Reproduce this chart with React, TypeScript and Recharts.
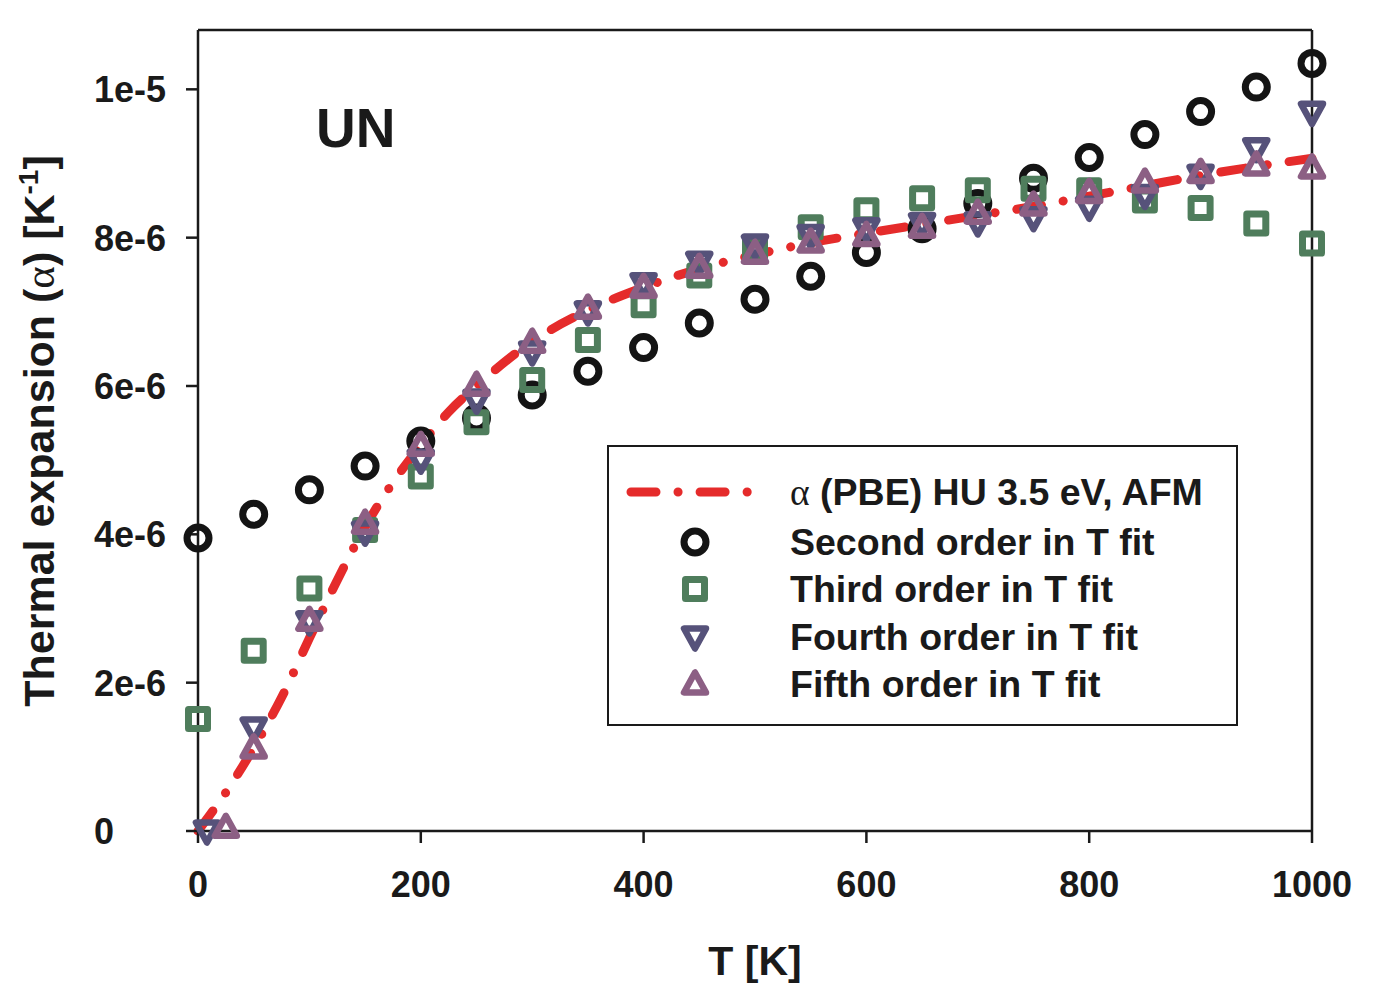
import React from "react";
import { ComposedChart, Line, Scatter, XAxis, YAxis, ReferenceLine } from "recharts";

const FONT = '"Liberation Sans", Arial, sans-serif';
const INK = "#1a1a1a";

// fitted points, alpha in units of 1e-6 K^-1
const fitT = [0, 50, 100, 150, 200, 250, 300, 350, 400, 450, 500, 550, 600, 650, 700, 750, 800, 850, 900, 950, 1000];
const secondOrder = [3.95, 4.27, 4.6, 4.92, 5.26, 5.57, 5.88, 6.2, 6.52, 6.85, 7.17, 7.48, 7.8, 8.12, 8.46, 8.8, 9.08, 9.39, 9.7, 10.03, 10.35];
const thirdOrder = [1.51, 2.43, 3.27, 4.06, 4.78, 5.51, 6.08, 6.62, 7.09, 7.49, 7.84, 8.14, 8.37, 8.53, 8.64, 8.66, 8.64, 8.5, 8.4, 8.19, 7.92];
const fourthT = [8, 50, 100, 150, 200, 250, 300, 350, 400, 450, 500, 550, 600, 650, 700, 750, 800, 850, 900, 950, 1000];
const fourthOrder = [0, 1.39, 2.82, 4.03, 5.0, 5.81, 6.46, 7.0, 7.38, 7.67, 7.9, 8.03, 8.12, 8.19, 8.2, 8.27, 8.41, 8.57, 8.84, 9.2, 9.69];
const fifthT = [25, 50, 100, 150, 200, 250, 300, 350, 400, 450, 500, 550, 600, 650, 700, 750, 800, 850, 900, 950, 1000];
const fifthOrder = [0.05, 1.12, 2.84, 4.15, 5.2, 6.01, 6.59, 7.05, 7.33, 7.6, 7.79, 7.94, 8.03, 8.14, 8.33, 8.44, 8.61, 8.75, 8.88, 8.98, 8.94];

// PBE curve
const pbeT = [0, 25, 50, 75, 100, 125, 150, 175, 200, 225, 250, 300, 350, 400, 450, 500, 550, 600, 650, 700, 750, 800, 850, 900, 950, 1000];
const pbeAlpha = [0, 0.52, 1.12, 1.8, 2.6, 3.38, 4.1, 4.7, 5.2, 5.65, 6.0, 6.6, 7.02, 7.33, 7.58, 7.77, 7.93, 8.06, 8.18, 8.3, 8.42, 8.56, 8.7, 8.84, 8.96, 9.07];

const xTicks = [0, 200, 400, 600, 800, 1000];
const yTicks = [0, 2, 4, 6, 8, 10];
const yTickLabels = ["0", "2e-6", "4e-6", "6e-6", "8e-6", "1e-5"];

const pts = (t: number[], a: number[]) => t.map((T, i) => ({ T, a: a[i] }));

const COL = {
  pbe: "#e52b2b",
  second: "#141414",
  third: "#4f7d5c",
  fourth: "#56527a",
  fifth: "#8c5f84",
};
const DASH = "25 22 0.1 22";

const CircleMark = ({ cx, cy }: any) => (
  <circle cx={cx} cy={cy} r={11} fill="none" stroke={COL.second} strokeWidth={7} />
);
const SquareMark = ({ cx, cy }: any) => (
  <rect x={cx - 9.5} y={cy - 9.5} width={19} height={19} fill="none" stroke={COL.third} strokeWidth={7} strokeLinejoin="round" />
);
const DownMark = ({ cx, cy }: any) => (
  <polygon points={`${cx - 11},${cy - 8.5} ${cx + 11},${cy - 8.5} ${cx},${cy + 11.5}`} fill="none" stroke={COL.fourth} strokeWidth={6.5} strokeLinejoin="round" />
);
const UpMark = ({ cx, cy }: any) => (
  <polygon points={`${cx - 11},${cy + 8.5} ${cx + 11},${cy + 8.5} ${cx},${cy - 11.5}`} fill="none" stroke={COL.fifth} strokeWidth={6.5} strokeLinejoin="round" />
);

const XTick = ({ x, payload }: any) => (
  <text x={x} y={897} textAnchor="middle" fontFamily={FONT} fontWeight="bold" fontSize={36} fill={INK}>
    {payload.value}
  </text>
);

const YTick = ({ y, payload }: any) => (
  <text x={94} y={y + 13} textAnchor="start" fontFamily={FONT} fontWeight="bold" fontSize={36} fill={INK}>
    {yTickLabels[yTicks.indexOf(payload.value)]}
  </text>
);

const XTitle = () => (
  <text x={755} y={975} textAnchor="middle" fontFamily={FONT} fontWeight="bold" fontSize={41} fill={INK}>
    T [K]
  </text>
);

const YTitle = () => (
  <text transform="translate(54 431) rotate(-90)" textAnchor="middle" fontFamily={FONT} fontWeight="bold" fontSize={43} fill={INK}>
    Thermal expansion (<tspan fontFamily='"Liberation Serif", serif' fontWeight="normal">α</tspan>) [K
    <tspan dy={-16} fontSize={28}>-1</tspan>
    <tspan dy={16}>]</tspan>
  </text>
);

const legendItems = [
  { key: "pbe", label: "α (PBE) HU 3.5 eV, AFM", top: 490 },
  { key: "second", label: "Second order in T fit", top: 540 },
  { key: "third", label: "Third order in T fit", top: 587 },
  { key: "fourth", label: "Fourth order in T fit", top: 635 },
  { key: "fifth", label: "Fifth order in T fit", top: 682 },
];

const LegendIcon = ({ kind }: { kind: string }) => {
  if (kind === "pbe") {
    return (
      <svg width={140} height={40} style={{ position: "absolute", left: 14, top: 0 }}>
        <line x1={8} y1={20} x2={135} y2={20} stroke={COL.pbe} strokeWidth={9} strokeDasharray={DASH} strokeLinecap="round" />
      </svg>
    );
  }
  const m: any = { second: CircleMark, third: SquareMark, fourth: DownMark, fifth: UpMark };
  const Mark = m[kind];
  return (
    <svg width={40} height={40} style={{ position: "absolute", left: 66, top: 0 }}>
      <Mark cx={20} cy={20} />
    </svg>
  );
};

const LegendBox = () => (
  <div
    style={{
      position: "absolute",
      left: 607,
      top: 445,
      width: 631,
      height: 281,
      boxSizing: "border-box",
      border: `2px solid ${INK}`,
      background: "#fff",
    }}
  >
    {legendItems.map((it) => (
      <div key={it.key} style={{ position: "absolute", left: 0, top: it.top - 445 - 20, width: 629, height: 40 }}>
        <LegendIcon kind={it.key} />
        <div
          style={{
            position: "absolute",
            left: 181,
            top: 0,
            height: 40,
            lineHeight: "40px",
            whiteSpace: "nowrap",
            fontFamily: FONT,
            fontWeight: "bold",
            fontSize: 37.5,
            color: INK,
          }}
        >
          {it.key === "pbe" ? (
            <>
              <span style={{ fontFamily: '"Liberation Serif", serif', fontWeight: "normal" }}>α</span>
              {it.label.slice(1)}
            </>
          ) : (
            it.label
          )}
        </div>
      </div>
    ))}
  </div>
);

export default function App() {
  return (
    <div style={{ position: "absolute", left: 0, top: 0, width: 1382, height: 992, background: "#fff" }}>
      <ComposedChart width={1382} height={992} margin={{ top: 30, right: 70, bottom: 101, left: 78 }}>
        <XAxis
          type="number"
          dataKey="T"
          domain={[0, 1000]}
          ticks={xTicks}
          height={60}
          tickSize={12}
          axisLine={{ stroke: INK, strokeWidth: 2.5 }}
          tickLine={{ stroke: INK, strokeWidth: 2.5 }}
          tick={<XTick />}
          label={<XTitle />}
        />
        <YAxis
          type="number"
          dataKey="a"
          domain={[0, 10.8]}
          ticks={yTicks}
          width={120}
          tickSize={12}
          axisLine={{ stroke: INK, strokeWidth: 2.5 }}
          tickLine={{ stroke: INK, strokeWidth: 2.5 }}
          tick={<YTick />}
          label={<YTitle />}
        />
        <ReferenceLine y={10.8} stroke={INK} strokeWidth={2.5} />
        <ReferenceLine x={1000} stroke={INK} strokeWidth={2.5} />
        <Line
          data={pts(pbeT, pbeAlpha)}
          dataKey="a"
          type="monotone"
          stroke={COL.pbe}
          strokeWidth={9}
          strokeDasharray={DASH}
          strokeLinecap="round"
          dot={false}
          activeDot={false}
          isAnimationActive={false}
        />
        <Scatter data={pts(fitT, secondOrder)} dataKey="a" shape={<CircleMark />} isAnimationActive={false} />
        <Scatter data={pts(fitT, thirdOrder)} dataKey="a" shape={<SquareMark />} isAnimationActive={false} />
        <Scatter data={pts(fourthT, fourthOrder)} dataKey="a" shape={<DownMark />} isAnimationActive={false} />
        <Scatter data={pts(fifthT, fifthOrder)} dataKey="a" shape={<UpMark />} isAnimationActive={false} />
      </ComposedChart>
      <div
        style={{
          position: "absolute",
          left: 316,
          top: 101,
          fontFamily: FONT,
          fontWeight: "bold",
          fontSize: 55,
          lineHeight: "55px",
          color: INK,
        }}
      >
        UN
      </div>
      <LegendBox />
    </div>
  );
}
